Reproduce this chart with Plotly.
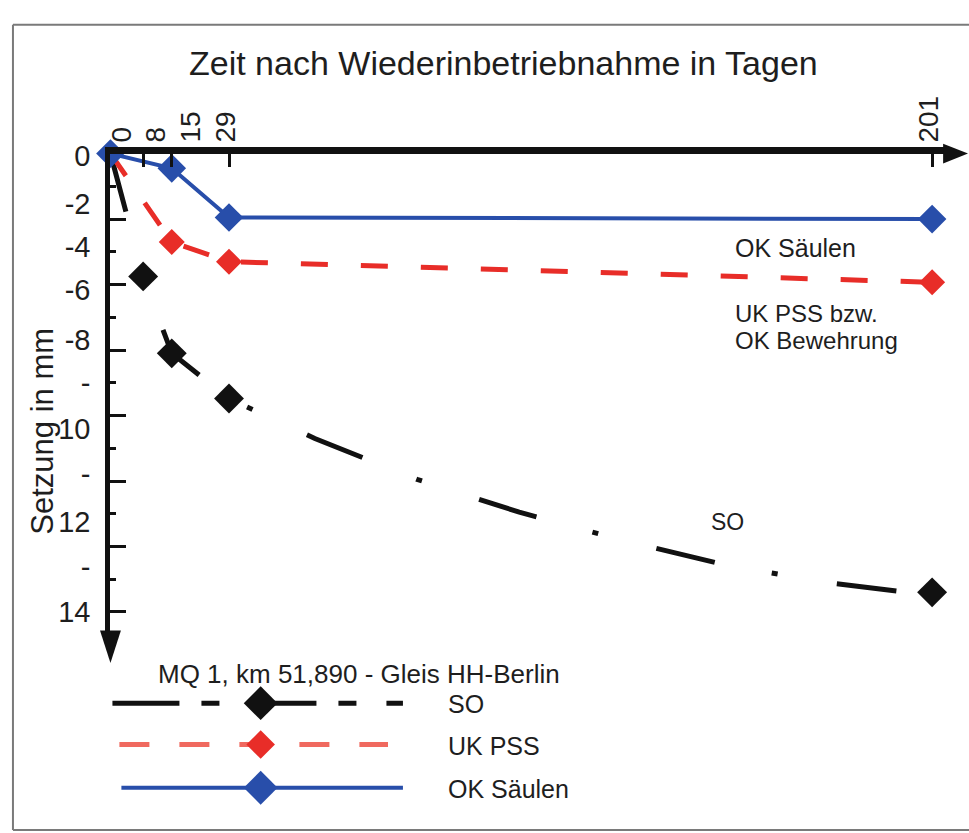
import plotly.graph_objects as go

# ---------------- data ----------------
days_measured = [0, 8, 15, 29, 201]

so_days = [0, 8, 15, 29, 50, 75, 100, 125, 150, 175, 195, 201]
so_vals = [0, 3.75, 6.1, 7.48, 8.7, 9.95, 10.95, 11.8, 12.55, 13.1, 13.4, 13.4]
so_marker = [0, 1, 1, 1, 0, 0, 0, 0, 0, 0, 0, 1]

pss_days = [0, 15, 29, 201]
pss_vals = [0, 2.7, 3.3, 3.93]

ok_days = [0, 15, 29, 201]
ok_vals = [0, 0.45, 1.95, 2.0]

x_tick_vals = [0, 8, 15, 29, 201]
x_label_pos = [2.7, 11.0, 19.7, 28.2, 200.3]
x_label_text = ["0", "8", "15", "29", "201"]

y_major_ticks = [0, 2, 4, 6, 8, 10, 12, 14]
y_minor_ticks = [1, 3, 5, 7, 9, 11, 13]
y_label_pos = [0.06, 1.53, 2.85, 4.17, 5.68, 7.0, 8.41, 9.79, 11.26, 12.61, 14.0]
y_label_text = ["0", "-2", "-4", "-6", "-8", "-", "10", "-", "12", "-", "14"]

legend_title = "MQ 1, km 51,890 - Gleis HH-Berlin"
legend_names = ["SO", "UK PSS", "OK Säulen"]

# ---------------- style ----------------
W, H = 969, 833
FONT = "Liberation Sans, Arial, sans-serif"
TXT = "#1e1e1e"
BLACK = "#111111"
RED = "rgb(232,45,40)"
RED_L = "rgb(240,105,95)"
BLUE = "rgb(40,78,170)"

X0_PX, PX_PER_DAY = 106, 4.109
Y0_PX, PX_PER_MM = 142, 33.3
X_END_PX, Y_END_PX = 945, 630

x_range = [0, (X_END_PX - X0_PX) / PX_PER_DAY]
y_range = [(Y_END_PX - Y0_PX) / PX_PER_MM, 0]
x_dom = [X0_PX / W, X_END_PX / W]
y_dom = [1 - Y_END_PX / H, 1 - Y0_PX / H]

fig = go.Figure()

# SO
fig.add_trace(go.Scatter(
    x=so_days, y=so_vals, mode="lines+markers", cliponaxis=False,
    line=dict(color=BLACK, width=5, dash="60px,58px,6px,60px"),
    marker=dict(symbol="diamond", color=BLACK, size=[23 * m for m in so_marker],
                opacity=1, line=dict(width=0)),
    showlegend=False, xaxis="x", yaxis="y"))
# UK PSS
fig.add_trace(go.Scatter(
    x=pss_days, y=pss_vals, mode="lines+markers", cliponaxis=False,
    line=dict(color=RED, width=5, dash="27px,33px"),
    marker=dict(symbol="diamond", color=RED, size=20, opacity=1, line=dict(width=0)),
    showlegend=False, xaxis="x", yaxis="y"))
# OK Säulen
fig.add_trace(go.Scatter(
    x=ok_days, y=ok_vals, mode="lines+markers", cliponaxis=False,
    line=dict(color=BLUE, width=4),
    marker=dict(symbol="diamond", color=BLUE, size=22, opacity=1, line=dict(width=0)),
    showlegend=False, xaxis="x", yaxis="y"))

# ---------------- custom legend (pixel axis) ----------------
leg_rows = [701, 743, 787]
leg_x0 = [108, 115, 117]
leg_x1 = [400, 385, 400]
leg_colors = [BLACK, RED_L, BLUE]
leg_dash = ["67px,22px,18px,30px", "30px,30px", "solid"]
leg_width = [5, 5, 4]
leg_mcolor = [BLACK, RED, BLUE]
leg_msize = [26, 22, 26]
for i in range(3):
    fig.add_trace(go.Scatter(
        x=[leg_x0[i], leg_x1[i]], y=[leg_rows[i], leg_rows[i]], mode="lines",
        line=dict(color=leg_colors[i], width=leg_width[i], dash=leg_dash[i]),
        showlegend=False, xaxis="x3", yaxis="y3", hoverinfo="skip"))
    fig.add_trace(go.Scatter(
        x=[257], y=[leg_rows[i]], mode="markers",
        marker=dict(symbol="diamond", color=leg_mcolor[i], size=leg_msize[i], opacity=1),
        showlegend=False, xaxis="x3", yaxis="y3", hoverinfo="skip"))

axis_common = dict(showgrid=False, zeroline=False)

fig.update_layout(
    width=W, height=H, margin=dict(l=0, r=0, t=0, b=0),
    paper_bgcolor="white", plot_bgcolor="rgba(0,0,0,0)",
    font=dict(family=FONT, color=TXT),
    xaxis=dict(domain=x_dom, range=x_range, side="top", anchor="y",
               showline=True, linecolor=BLACK, linewidth=7,
               tickmode="array", tickvals=x_tick_vals, ticks="inside",
               ticklen=13, tickwidth=3, tickcolor=BLACK,
               showticklabels=False, **axis_common),
    xaxis2=dict(domain=x_dom, range=x_range, side="top", anchor="y",
                overlaying="x", showline=False, ticks="",
                tickmode="array", tickvals=x_label_pos, ticktext=x_label_text,
                tickangle=-90, tickfont=dict(size=28, color=TXT),
                ticklabelstandoff=10, **axis_common),
    yaxis=dict(domain=y_dom, range=y_range, anchor="x",
               showline=True, linecolor=BLACK, linewidth=5,
               tickmode="array", tickvals=y_major_ticks, ticks="inside",
               ticklen=16, tickwidth=3, tickcolor=BLACK,
               minor=dict(tickmode="array", tickvals=y_minor_ticks, ticks="inside",
                          ticklen=6, tickwidth=3, tickcolor=BLACK),
               showticklabels=False, **axis_common),
    yaxis2=dict(domain=y_dom, range=y_range, anchor="x", overlaying="y",
                side="left", showline=False, ticks="",
                tickmode="array", tickvals=y_label_pos, ticktext=y_label_text,
                tickfont=dict(size=29, color=TXT), ticklabelstandoff=19,
                **axis_common),
    xaxis3=dict(domain=[0, 1], range=[0, W], visible=False, anchor="y3",
                fixedrange=True),
    yaxis3=dict(domain=[0, 1], range=[H, 0], visible=False, anchor="x3",
                fixedrange=True),
)

fig.add_trace(go.Scatter(x=[None], y=[None], xaxis="x2", yaxis="y2",
                         showlegend=False, hoverinfo="skip"))

# arrowheads and frame (pixel coordinates of the page)
frame = dict(color="#7a7a7a", width=2)
shapes = [
    dict(type="path", xref="x3", yref="y3",
         path=f"M {X_END_PX - 2},{Y0_PX - 10} L 968,{Y0_PX} L {X_END_PX - 2},{Y0_PX + 10} Z",
         fillcolor=BLACK, line=dict(width=0)),
    dict(type="path", xref="x3", yref="y3",
         path=f"M {X0_PX - 10.5},{Y_END_PX - 3} L {X0_PX},660 L {X0_PX + 10.5},{Y_END_PX - 3} Z",
         fillcolor=BLACK, line=dict(width=0)),
    dict(type="line", xref="x3", yref="y3", x0=8, y0=11, x1=969, y1=11, line=frame),
    dict(type="line", xref="x3", yref="y3", x0=8, y0=11, x1=8, y1=830, line=frame),
    dict(type="line", xref="x3", yref="y3", x0=8, y0=830, x1=969, y1=830, line=frame),
]
fig.update_layout(shapes=shapes)

ann = []
def px_ann(text, x, y, size, xanchor="left", angle=0):
    ann.append(dict(text=text, x=x, y=y, xref="x3", yref="y3", showarrow=False,
                    xanchor=xanchor, yanchor="middle", textangle=angle,
                    font=dict(size=size, color=TXT, family=FONT)))

px_ann("Zeit nach Wiederinbetriebnahme in Tagen", 501, 50, 34, "center")
px_ann("Setzung in mm", 38, 424, 31, "center", -90)
px_ann("OK Säulen", 732, 238, 25)
px_ann("UK PSS bzw.", 732, 305, 24)
px_ann("OK Bewehrung", 732, 332, 24)
px_ann("SO", 726, 517, 23, "center")
px_ann(legend_title, 356, 671, 26, "center")
for i in range(3):
    px_ann(legend_names[i], 443, leg_rows[i] + 1, 25)
fig.update_layout(annotations=ann)

fig.write_html(
    "out.html",
    config={"displayModeBar": False},
    post_script="document.body.style.margin='0';"
                "document.documentElement.style.overflow='hidden';"
                "document.body.style.overflow='hidden';",
)
